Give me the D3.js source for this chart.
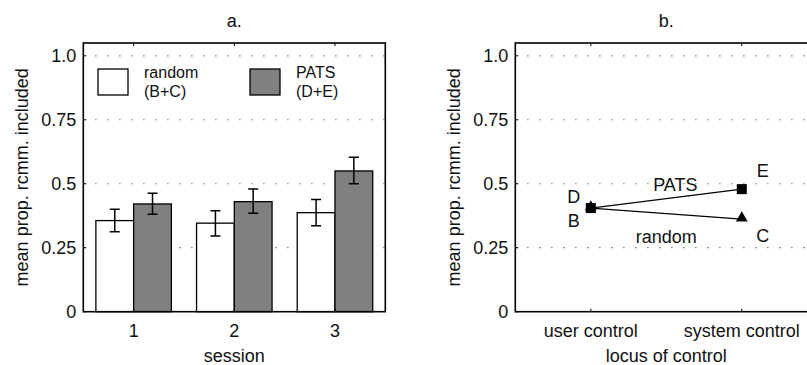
<!DOCTYPE html>
<html>
<head>
<meta charset="utf-8">
<script src="https://cdn.jsdelivr.net/npm/d3@7"></script>
<style>
  body { margin: 0; background: #fff; }
  text { font-family: "Liberation Sans", Arial, sans-serif; font-size: 18px; fill: #111; }
</style>
</head>
<body>
<div id="chart"></div>
<script>
// data
const sessions = [1, 2, 3];
const randomMean = [0.356, 0.346, 0.387];
const randomLo = [0.312, 0.296, 0.336];
const randomHi = [0.400, 0.394, 0.438];
const patsMean = [0.421, 0.430, 0.550];
const patsLo = [0.381, 0.385, 0.500];
const patsHi = [0.463, 0.479, 0.604];

const locus = ["user control", "system control"];
const locusPats = [0.405, 0.479];
const locusRandom = [0.405, 0.362];

const yTicks = [0, 0.25, 0.5, 0.75, 1.0];
const yTickLabels = ["0", "0.25", "0.5", "0.75", "1.0"];

const W = 807, H = 365;
const svg = d3.select("#chart").append("svg")
  .attr("width", W).attr("height", H);

const plotTop = 43, plotBottom = 311.7, plotW = 302;
const y = d3.scaleLinear().domain([0, 1.05]).range([plotBottom, plotTop]);

function grid(g, x0, x1) {
  g.selectAll(".grid").data(yTicks.slice(1)).enter().append("line")
    .attr("x1", x0).attr("x2", x1)
    .attr("y1", d => y(d)).attr("y2", d => y(d))
    .attr("stroke", "#555").attr("stroke-width", 1.2)
    .attr("stroke-dasharray", "1.2,10.8");
}

function yAxis(g, x0) {
  g.selectAll(".ylab").data(yTicks).enter().append("text")
    .attr("x", x0 - 7).attr("y", d => y(d) + 6.5)
    .attr("text-anchor", "end")
    .text((d, i) => yTickLabels[i]);
  g.selectAll(".ytick").data(yTicks).enter().append("line")
    .attr("x1", x0).attr("x2", x0 + 3)
    .attr("y1", d => y(d)).attr("y2", d => y(d))
    .attr("stroke", "#000");
  g.append("text")
    .attr("transform", `translate(${x0 - 55},${(plotTop + plotBottom) / 2}) rotate(-90)`)
    .attr("text-anchor", "middle")
    .text("mean prop. rcmm. included");
}

// ---------- panel a ----------
const ax0 = 83.3;
const xa = d3.scaleLinear().domain([0.5, 3.5]).range([ax0, ax0 + plotW]);
const ga = svg.append("g");
grid(ga, ax0, ax0 + plotW);

const bw = 0.375;
function bars(vals, lo, hi, off, fill) {
  ga.selectAll(null).data(vals).enter().append("rect")
    .attr("x", (d, i) => xa(sessions[i] + off))
    .attr("width", xa(bw) - xa(0))
    .attr("y", d => y(d)).attr("height", d => y(0) - y(d))
    .attr("fill", fill).attr("stroke", "#000").attr("stroke-width", 1.3);
  const cx = i => xa(sessions[i] + off + bw / 2);
  ga.selectAll(null).data(vals).enter().append("path")
    .attr("d", (d, i) => `M${cx(i)},${y(lo[i])}V${y(hi[i])}` +
      `M${cx(i) - 5},${y(hi[i])}H${cx(i) + 5}` +
      `M${cx(i) - 5},${y(lo[i])}H${cx(i) + 5}`)
    .attr("stroke", "#000").attr("stroke-width", 1.5).attr("fill", "none");
}
bars(randomMean, randomLo, randomHi, -bw, "#fff");
bars(patsMean, patsLo, patsHi, 0, "#808080");

// frame
ga.append("rect").attr("x", ax0).attr("y", plotTop)
  .attr("width", plotW).attr("height", plotBottom - plotTop)
  .attr("fill", "none").attr("stroke", "#000").attr("stroke-width", 1.6);
ga.selectAll(null).data(sessions).enter().append("path")
  .attr("d", d => `M${xa(d)},${plotTop}v3M${xa(d)},${plotBottom}v-3`)
  .attr("stroke", "#000");
ga.selectAll(null).data(sessions).enter().append("text")
  .attr("x", d => xa(d)).attr("y", 337)
  .attr("text-anchor", "middle").text(d => d);
ga.append("text").attr("x", xa(2)).attr("y", 362)
  .attr("text-anchor", "middle").text("session");
ga.append("text").attr("x", xa(2)).attr("y", 27)
  .attr("text-anchor", "middle").text("a.");
yAxis(ga, ax0);

// legend (two-line labels)
const legend = [{fill: "#fff", lines: ["random", "(B+C)"], x: 98},
                {fill: "#808080", lines: ["PATS", "(D+E)"], x: 250}];
legend.forEach(l => {
  ga.append("rect").attr("x", l.x).attr("y", 69).attr("width", 30).attr("height", 26)
    .attr("fill", l.fill).attr("stroke", "#000").attr("stroke-width", 1.3);
  ga.append("text").attr("y", 78).style("font-size", "16px")
    .selectAll("tspan").data(l.lines).enter().append("tspan")
      .attr("x", l.x + 46).attr("dy", (d, i) => i ? 18.5 : 0)
      .text(d => d);
});

// ---------- panel b ----------
const bx0 = 515.3;
const xb = d3.scalePoint().domain(locus).range([bx0 + plotW / 4, bx0 + plotW * 3 / 4]);
const gb = svg.append("g");
grid(gb, bx0, bx0 + plotW);

const line = d3.line().x((d, i) => xb(locus[i])).y(d => y(d));
gb.append("path").datum(locusPats).attr("d", line)
  .attr("fill", "none").attr("stroke", "#000").attr("stroke-width", 1.3);
gb.append("path").datum(locusRandom).attr("d", line)
  .attr("fill", "none").attr("stroke", "#000").attr("stroke-width", 1.3);

const tri = d3.symbol().type(d3.symbolTriangle).size(60);
gb.selectAll(null).data(locusRandom).enter().append("path")
  .attr("d", tri)
  .attr("transform", (d, i) => `translate(${xb(locus[i])},${y(d) - 1})`)
  .attr("fill", "#000");
gb.selectAll(null).data(locusPats).enter().append("rect")
  .attr("x", (d, i) => xb(locus[i]) - 5).attr("y", d => y(d) - 5)
  .attr("width", 10).attr("height", 10).attr("fill", "#000");

// point labels
const lbl = (t, x, yy) => gb.append("text").attr("x", x).attr("y", yy)
  .attr("text-anchor", "middle").text(t);
lbl("D", xb(locus[0]) - 17, y(locusPats[0]) - 5);
lbl("B", xb(locus[0]) - 17, y(locusRandom[0]) + 19);
lbl("E", xb(locus[1]) + 21, y(locusPats[1]) - 12);
lbl("C", xb(locus[1]) + 21, y(locusRandom[1]) + 23);
lbl("PATS", (xb(locus[0]) + xb(locus[1])) / 2 + 9, y((locusPats[0] + locusPats[1]) / 2) - 7.5);
lbl("random", (xb(locus[0]) + xb(locus[1])) / 2, y((locusRandom[0] + locusRandom[1]) / 2) + 29.5);

gb.append("rect").attr("x", bx0).attr("y", plotTop)
  .attr("width", plotW).attr("height", plotBottom - plotTop)
  .attr("fill", "none").attr("stroke", "#000").attr("stroke-width", 1.6);
gb.selectAll(null).data(locus).enter().append("path")
  .attr("d", d => `M${xb(d)},${plotTop}v3M${xb(d)},${plotBottom}v-3`)
  .attr("stroke", "#000");
gb.selectAll(null).data(locus).enter().append("text")
  .attr("x", d => xb(d)).attr("y", 337)
  .attr("text-anchor", "middle").text(d => d);
gb.append("text").attr("x", bx0 + plotW / 2).attr("y", 362)
  .attr("text-anchor", "middle").text("locus of control");
gb.append("text").attr("x", bx0 + plotW / 2).attr("y", 27)
  .attr("text-anchor", "middle").text("b.");
yAxis(gb, bx0);
</script>
</body>
</html>
